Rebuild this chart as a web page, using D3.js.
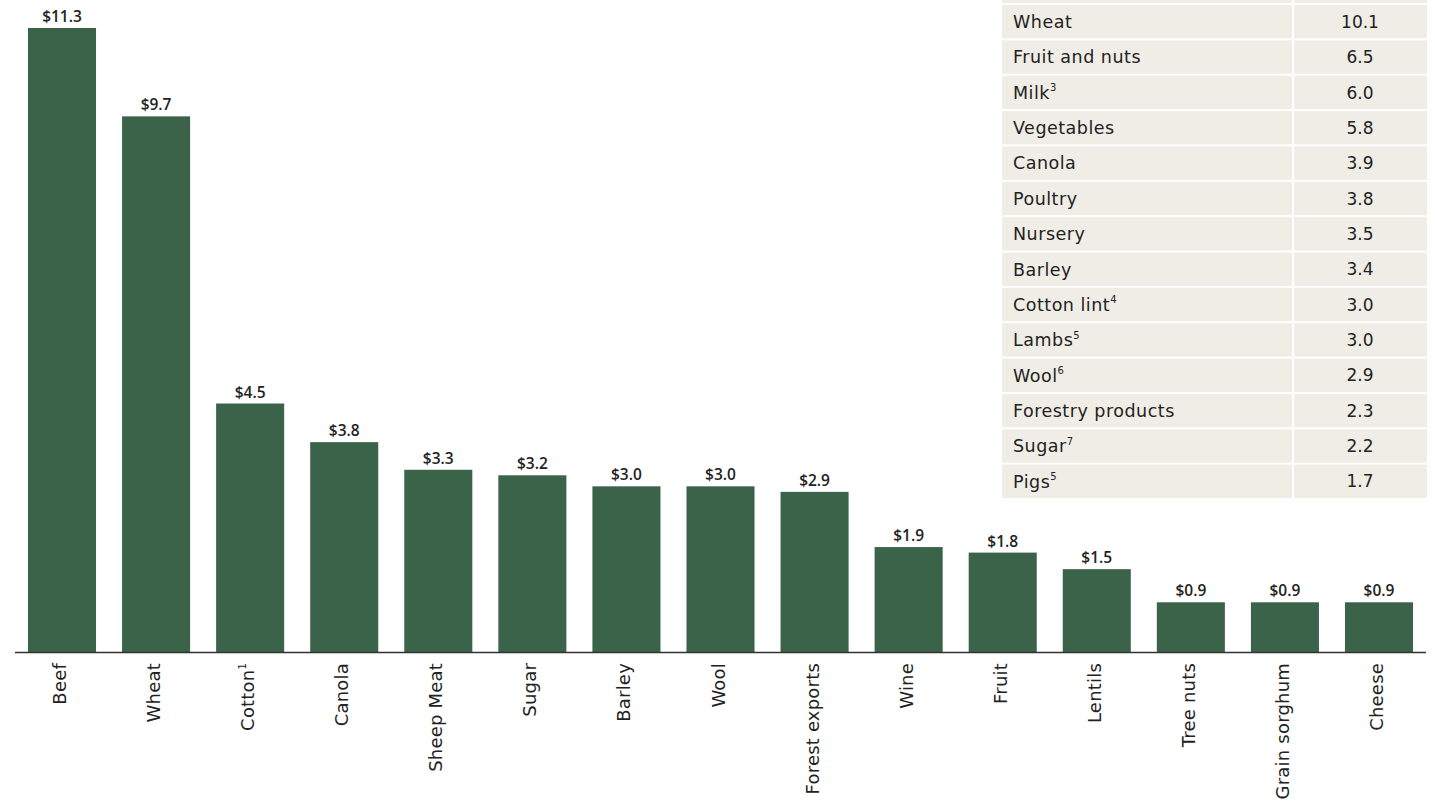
<!DOCTYPE html>
<html>
<head>
<meta charset="utf-8">
<script src="https://cdn.jsdelivr.net/npm/d3@7"></script>
<style>
  html, body { margin: 0; padding: 0; background: #ffffff; }
  svg { display: block; font-family: "DejaVu Sans", sans-serif; }
</style>
</head>
<body>
<svg id="chart" width="1435" height="803"></svg>
<script>
// Export value by commodity ($ billion)
const categories = ["Beef", "Wheat", "Cotton", "Canola", "Sheep Meat", "Sugar", "Barley", "Wool",
  "Forest exports", "Wine", "Fruit", "Lentils", "Tree nuts", "Grain sorghum", "Cheese"];
const categoryNotes = ["", "", "1", "", "", "", "", "", "", "", "", "", "", "", ""];
const exportValues = [11.3, 9.7, 4.5, 3.8, 3.3, 3.2, 3.0, 3.0, 2.9, 1.9, 1.8, 1.5, 0.9, 0.9, 0.9];

// Gross value of production table
const tableItems = ["Wheat", "Fruit and nuts", "Milk", "Vegetables", "Canola", "Poultry", "Nursery",
  "Barley", "Cotton lint", "Lambs", "Wool", "Forestry products", "Sugar", "Pigs"];
const tableNotes = ["", "", "3", "", "", "", "", "", "4", "5", "6", "", "7", "5"];
const tableValues = [10.1, 6.5, 6.0, 5.8, 3.9, 3.8, 3.5, 3.4, 3.0, 3.0, 2.9, 2.3, 2.2, 1.7];

const svg = d3.select("#chart");
const barColor = "#3a634a";
const textColor = "#222222";

const baseY = 652;
const x = d3.scaleBand()
  .domain(categories)
  .range([15, 1426])
  .paddingInner(0.2766)
  .paddingOuter(0.138);
const y = d3.scaleLinear().domain([0, 11.3]).range([baseY, 28]);

const data = categories.map((c, i) => ({ name: c, note: categoryNotes[i], value: exportValues[i] }));

// bars
svg.append("g").selectAll("rect").data(data).join("rect")
  .attr("x", d => x(d.name))
  .attr("y", d => y(d.value))
  .attr("width", x.bandwidth())
  .attr("height", d => y(0) - y(d.value))
  .attr("fill", barColor);

// value labels
svg.append("g").selectAll("text").data(data).join("text")
  .attr("x", d => x(d.name) + x.bandwidth() / 2)
  .attr("y", d => y(d.value) - 6)
  .attr("text-anchor", "middle")
  .attr("font-family", "'Open Sans', sans-serif")
  .attr("font-size", 15.5)
  .attr("font-weight", 600)
  .attr("fill", textColor)
  .text(d => "$" + d3.format(".1f")(d.value));

// baseline axis
const axis = svg.append("g").attr("transform", `translate(0,${baseY})`)
  .call(d3.axisBottom(x).tickSize(0).tickFormat(""));
axis.select(".domain").attr("stroke", "#333").attr("stroke-width", 1.5)
  .attr("d", `M15,0.5H1426`);

// rotated category labels
const labels = svg.append("g").selectAll("text").data(data).join("text")
  .attr("transform", d => `translate(${x(d.name) + x.bandwidth() / 2 + 4},${baseY + 11}) rotate(-90)`)
  .attr("text-anchor", "end")
  .attr("font-size", 18)
  .attr("letter-spacing", 0.2)
  .attr("fill", textColor);
labels.append("tspan").text(d => d.name);
labels.filter(d => d.note).append("tspan")
  .attr("font-size", 10)
  .attr("dy", "-0.8em")
  .text(d => d.note);

// table
const tblLeft = 1002, tblSplit = 1293, tblRight = 1427;
const rowH = 35.36;
const rowY = i => 4 + (i - 1) * rowH; // row 0 is the header band above the first item
const rows = d3.range(tableItems.length + 1);
const tbl = svg.append("g");
tbl.selectAll("rect.l").data(rows).join("rect").attr("class", "l")
  .attr("x", tblLeft).attr("y", i => rowY(i) + 1)
  .attr("width", tblSplit - tblLeft - 1).attr("height", rowH - 2)
  .attr("fill", "#f0ede6");
tbl.selectAll("rect.r").data(rows).join("rect").attr("class", "r")
  .attr("x", tblSplit + 1).attr("y", i => rowY(i) + 1)
  .attr("width", tblRight - tblSplit - 1).attr("height", rowH - 2)
  .attr("fill", "#f0ede6");

const items = tableItems.map((t, i) => ({ name: t, note: tableNotes[i], value: tableValues[i], row: i + 1 }));
const names = tbl.selectAll("text.n").data(items).join("text").attr("class", "n")
  .attr("x", 1013)
  .attr("y", d => rowY(d.row) + rowH / 2)
  .attr("dy", "0.36em")
  .attr("font-size", 17.5)
  .attr("letter-spacing", 0.5)
  .attr("fill", textColor);
names.append("tspan").text(d => d.name);
names.filter(d => d.note).append("tspan")
  .attr("font-size", 10)
  .attr("dy", "-0.75em")
  .text(d => d.note);
tbl.selectAll("text.v").data(items).join("text").attr("class", "v")
  .attr("x", (tblSplit + tblRight) / 2)
  .attr("y", d => rowY(d.row) + rowH / 2)
  .attr("dy", "0.36em")
  .attr("text-anchor", "middle")
  .attr("font-size", 17)
  .attr("fill", textColor)
  .text(d => d3.format(".1f")(d.value));
</script>
</body>
</html>
